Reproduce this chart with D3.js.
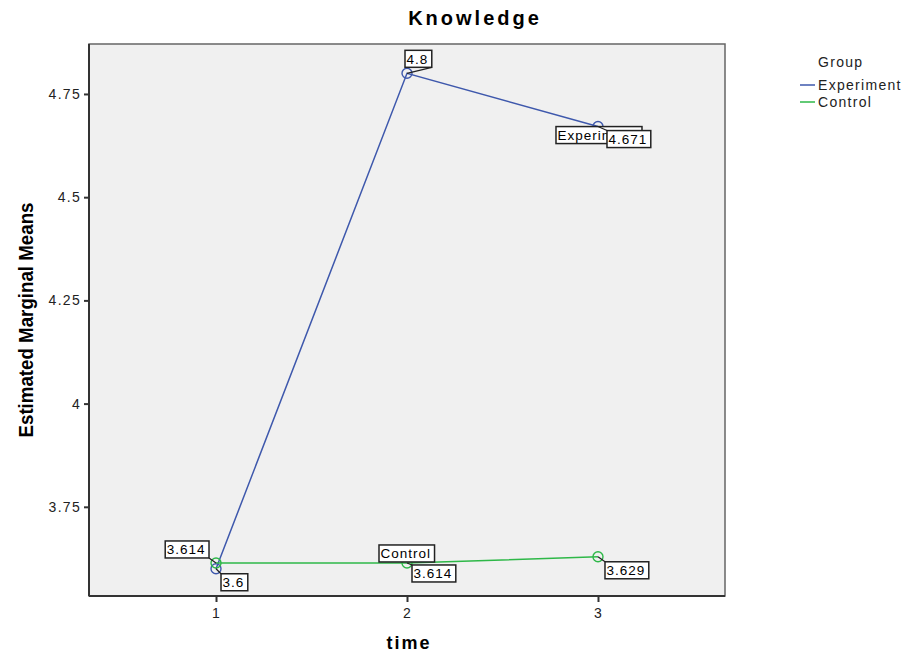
<!DOCTYPE html>
<html>
<head>
<meta charset="utf-8">
<script src="https://d3js.org/d3.v7.min.js"></script>
<style>
  body { margin: 0; background: #fff; }
  text { font-family: "Liberation Sans", Arial, sans-serif; }
  .axis .domain { display: none; }
  .axis line { stroke: #333; stroke-width: 2; }
  .axis text { font-size: 14px; fill: #222; letter-spacing: 1.3px; }
</style>
</head>
<body>
<svg id="chart" width="908" height="655"></svg>
<script>
// data
const times = [1, 2, 3];
const groups = ['Experiment', 'Control'];
const experiment = [3.6, 4.8, 4.671];
const control = [3.614, 3.614, 3.629];
const yTicks = [3.75, 4, 4.25, 4.5, 4.75];
const colors = ['#3e58ac', '#2eb848'];

const margin = {left: 89, top: 44, right: 183, bottom: 59};
const svg = d3.select('svg#chart');
const W = +svg.attr('width'), H = +svg.attr('height');

const x = d3.scaleLinear().domain([0.335, 3.665]).range([margin.left, W - margin.right]);
const y = d3.scaleLinear().domain([3.534, 4.871]).range([H - margin.bottom, margin.top]);

// plot area
svg.append('rect')
  .attr('x', x.range()[0]).attr('y', y.range()[1])
  .attr('width', x.range()[1] - x.range()[0])
  .attr('height', y.range()[0] - y.range()[1])
  .attr('fill', '#f0f0f0')
  .attr('stroke', '#666').attr('stroke-width', 1.5);

// axes
svg.append('g').attr('class', 'axis')
  .attr('transform', `translate(${margin.left},0)`)
  .call(d3.axisLeft(y).tickValues(yTicks).tickSize(5).tickSizeOuter(0).tickPadding(3).tickFormat(d => String(d)));

svg.append('g').attr('class', 'axis')
  .attr('transform', `translate(0,${H - margin.bottom})`)
  .call(d3.axisBottom(x).tickValues(times).tickSize(6).tickSizeOuter(0).tickPadding(6).tickFormat(d => String(d)));

// left and bottom frame lines drawn darker
svg.append('line')
  .attr('x1', margin.left).attr('x2', margin.left)
  .attr('y1', y.range()[1]).attr('y2', y.range()[0])
  .attr('stroke', '#333').attr('stroke-width', 2);
svg.append('line')
  .attr('x1', margin.left).attr('x2', x.range()[1])
  .attr('y1', y.range()[0]).attr('y2', y.range()[0])
  .attr('stroke', '#333').attr('stroke-width', 2);

// titles
svg.append('text')
  .attr('x', 475).attr('y', 25)
  .attr('text-anchor', 'middle')
  .style('font-size', '20px').style('font-weight', 'bold').style('letter-spacing', '3px')
  .text('Knowledge');

svg.append('text')
  .attr('transform', 'translate(33,320) rotate(-90)')
  .attr('text-anchor', 'middle')
  .attr('textLength', 235).attr('lengthAdjust', 'spacingAndGlyphs')
  .style('font-family', '"Liberation Sans Narrow", "Arial Narrow", "Liberation Sans", sans-serif')
  .style('font-size', '21px').style('font-weight', 'bold')
  .text('Estimated Marginal Means');

svg.append('text')
  .attr('x', 409).attr('y', 649)
  .attr('text-anchor', 'middle')
  .style('font-size', '18px').style('font-weight', 'bold').style('letter-spacing', '2px')
  .text('time');

// lines and markers
const series = [experiment, control];
const line = d3.line().x((d, i) => x(times[i])).y(d => y(d));

series.forEach((vals, s) => {
  svg.append('path')
    .datum(vals)
    .attr('d', line)
    .attr('fill', 'none')
    .attr('stroke', colors[s])
    .attr('stroke-width', 1.5);
  svg.selectAll(null)
    .data(vals)
    .join('circle')
    .attr('cx', (d, i) => x(times[i]))
    .attr('cy', d => y(d))
    .attr('r', 5)
    .attr('fill', 'none')
    .attr('stroke', colors[s])
    .attr('stroke-width', 1.4);
});

// boxed labels: series, point index, text, box offset from the point
// ax/ay: 0 = box starts at offset, 1 = box ends at offset
const labels = [
  {s: 0, i: 2, text: groups[0], dx: -42, dy: 0, ax: 0, ay: 0, w: 86},
  {s: 0, i: 0, text: String(experiment[0]), dx: 5, dy: 5, ax: 0, ay: 0},
  {s: 0, i: 1, text: String(experiment[1]), dx: -2, dy: -6, ax: 0, ay: 1},
  {s: 0, i: 2, text: String(experiment[2]), dx: 9, dy: 4, ax: 0, ay: 0},
  {s: 1, i: 0, text: String(control[0]), dx: -7, dy: -5, ax: 1, ay: 1},
  {s: 1, i: 1, text: groups[1], dx: -28, dy: -1, ax: 0, ay: 1},
  {s: 1, i: 1, text: String(control[1]), dx: 5, dy: 2, ax: 0, ay: 0},
  {s: 1, i: 2, text: String(control[2]), dx: 7, dy: 5, ax: 0, ay: 0}
];

const boxH = 17;
labels.forEach(l => {
  const px = x(times[l.i]);
  const py = y(series[l.s][l.i]);
  const g = svg.append('g');
  const rect = g.append('rect');
  const t = g.append('text')
    .style('font-size', '13.5px').style('letter-spacing', '1px')
    .text(l.text);
  const bw = l.w || t.node().getComputedTextLength() + 5;
  const bx = px + l.dx - l.ax * bw;
  const by = py + l.dy - l.ay * boxH;
  rect.attr('x', bx).attr('y', by).attr('width', bw).attr('height', boxH)
    .attr('fill', '#fff').attr('stroke', '#222').attr('stroke-width', 1.5);
  t.attr('x', bx + 1.5).attr('y', by + 13.5);
  // short leader line from the point to the nearest box corner
  const cx = l.dx >= 0 && l.ax === 0 ? bx : bx + bw;
  const cy = l.ay === 0 ? by : by + boxH;
  if (l.text !== groups[0] && l.text !== groups[1]) {
    svg.append('line')
      .attr('x1', px).attr('y1', py).attr('x2', cx).attr('y2', cy)
      .attr('stroke', '#222').attr('stroke-width', 1.2);
  }
});

// legend
const legend = svg.append('g').attr('transform', 'translate(800,0)');
legend.append('text')
  .attr('x', 18).attr('y', 67)
  .style('font-size', '14px').style('letter-spacing', '1.3px').style('fill', '#222')
  .text('Group');
groups.forEach((gname, k) => {
  const ly = 85 + k * 17;
  legend.append('line')
    .attr('x1', 0).attr('x2', 15).attr('y1', ly).attr('y2', ly)
    .attr('stroke', colors[k]).attr('stroke-width', 1.5);
  legend.append('text')
    .attr('x', 18).attr('y', ly + 5)
    .style('font-size', '14px').style('letter-spacing', '1.3px').style('fill', '#222')
    .text(gname);
});
</script>
</body>
</html>
